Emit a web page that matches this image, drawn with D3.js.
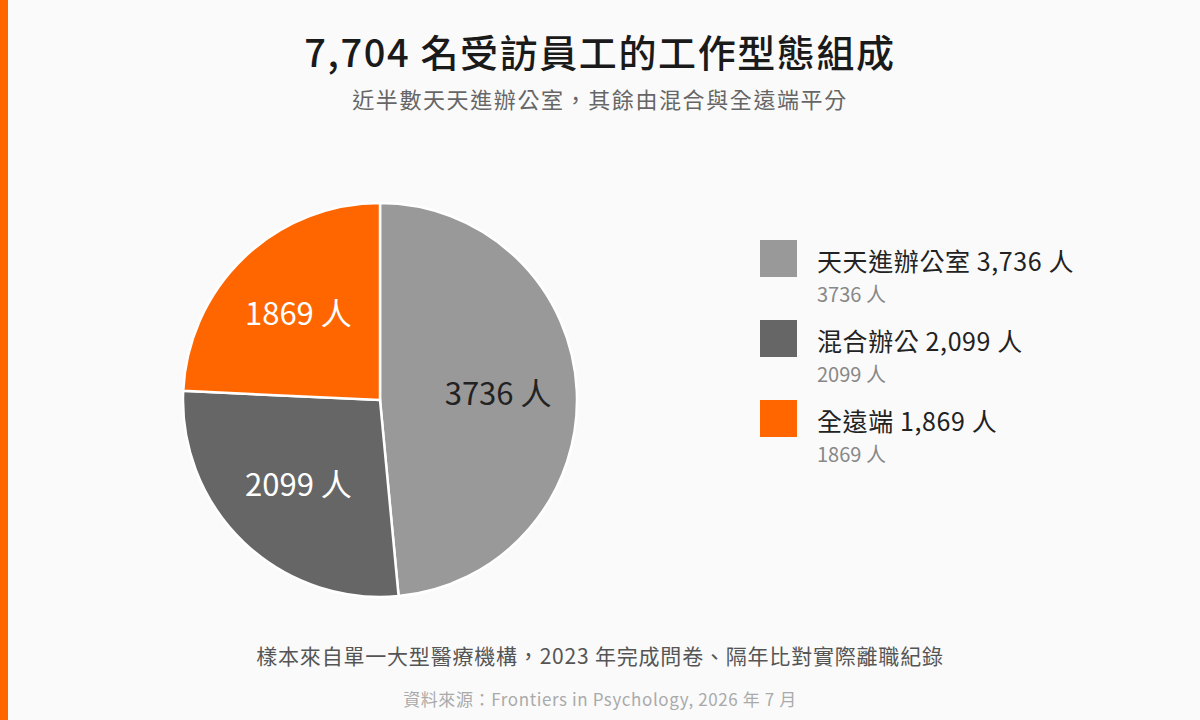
<!DOCTYPE html>
<html lang="zh-Hant">
<head>
<meta charset="UTF-8">
<script src="https://cdn.jsdelivr.net/npm/d3@7"></script>
<title>工作型態組成</title>
<style>
  body { margin: 0; background: #fafafa; }
  text { font-family: "Noto Sans CJK TC", "Noto Sans", sans-serif; }
</style>
</head>
<body>
<script>
var width = 1200;
var height = 720;

var categories = ["天天進辦公室", "混合辦公", "全遠端"];
var counts = [3736, 2099, 1869];
var colors = ["#999999", "#666666", "#ff6600"];
var labelColors = ["#222222", "#ffffff", "#ffffff"];

var title = "7,704 名受訪員工的工作型態組成";
var subtitle = "近半數天天進辦公室，其餘由混合與全遠端平分";
var note = "樣本來自單一大型醫療機構，2023 年完成問卷、隔年比對實際離職紀錄";
var source = "資料來源：Frontiers in Psychology, 2026 年 7 月";

var data = categories.map(function (c, i) { return { name: c, value: counts[i], color: colors[i], textColor: labelColors[i] }; });

var svg = d3.select("body").append("svg").attr("width", width).attr("height", height);

svg.append("rect").attr("width", width).attr("height", height).attr("fill", "#fafafa");
svg.append("rect").attr("x", 0).attr("y", 0).attr("width", 8).attr("height", height).attr("fill", "#ff6600");

svg.append("text").attr("x", 600).attr("y", 67).attr("text-anchor", "middle")
    .attr("font-size", 38).attr("font-weight", 500).attr("letter-spacing", 1.6)
    .attr("fill", "#1a1a1a").text(title);
svg.append("text").attr("x", 600).attr("y", 108).attr("text-anchor", "middle")
    .attr("font-size", 22).attr("letter-spacing", 1.6).attr("fill", "#666").text(subtitle);

// pie
var radius = 197;
var pie = d3.pie().sort(null).value(function (d) { return d.value; });
var arc = d3.arc().innerRadius(0).outerRadius(radius);
var labelArc = d3.arc().innerRadius(radius * 0.6).outerRadius(radius * 0.6);

var g = svg.append("g").attr("transform", "translate(380,400)");
var slices = g.selectAll("g.slice").data(pie(data)).enter().append("g").attr("class", "slice");
slices.append("path").attr("d", arc)
    .attr("fill", function (d) { return d.data.color; })
    .attr("stroke", "#ffffff").attr("stroke-width", 2.5);
slices.append("text")
    .attr("transform", function (d) { return "translate(" + labelArc.centroid(d) + ")"; })
    .attr("text-anchor", "middle").attr("dy", "0.35em")
    .attr("font-size", 31)
    .attr("fill", function (d) { return d.data.textColor; })
    .text(function (d) { return d.data.value + " 人"; });

// legend
var fmt = d3.format(",");
var legend = svg.append("g").selectAll("g").data(data).enter().append("g")
    .attr("transform", function (d, i) { return "translate(760," + (240 + i * 80) + ")"; });
legend.append("rect").attr("width", 37).attr("height", 37).attr("fill", function (d) { return d.color; });
legend.append("text").attr("x", 57).attr("y", 31).attr("font-size", 25).attr("letter-spacing", 0.6)
    .attr("fill", "#222")
    .text(function (d) { return d.name + " " + fmt(d.value) + " 人"; });
legend.append("text").attr("x", 57).attr("y", 62).attr("font-size", 20).attr("fill", "#888")
    .text(function (d) { return d.value + " 人"; });

svg.append("text").attr("x", 600).attr("y", 664).attr("text-anchor", "middle")
    .attr("font-size", 21).attr("letter-spacing", 0.8).attr("fill", "#555").text(note);
svg.append("text").attr("x", 600).attr("y", 706).attr("text-anchor", "middle")
    .attr("font-size", 17).attr("letter-spacing", 0.6).attr("fill", "#aaa").text(source);
</script>
</body>
</html>
